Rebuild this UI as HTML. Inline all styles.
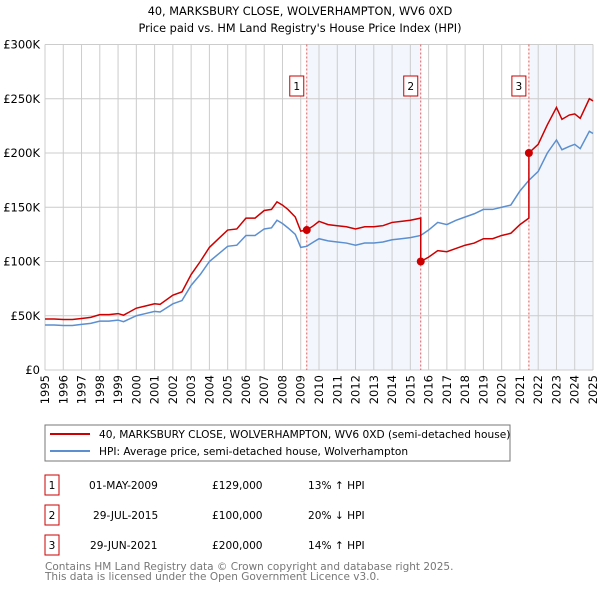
<!DOCTYPE html>
<html><head><meta charset="utf-8"><style>
body{margin:0;background:#fff;font-family:"DejaVu Sans","Liberation Sans",sans-serif;}
svg{display:block}
</style></head><body>
<svg id="c" width="600" height="590" viewBox="0 0 600 590" font-family="DejaVu Sans, Liberation Sans, sans-serif">
<text x="300" y="15" text-anchor="middle" font-size="11.3" fill="#000">40, MARKSBURY CLOSE, WOLVERHAMPTON, WV6 0XD</text>
<text x="300" y="32" text-anchor="middle" font-size="11.3" fill="#000">Price paid vs. HM Land Registry's House Price Index (HPI)</text>
<g id="plot"></g>
<g>
<rect x="45" y="425" width="465" height="36" fill="#fff" stroke="#777"/>
<line x1="50" y1="434" x2="90" y2="434" stroke="#cc0000" stroke-width="2"/>
<text x="99" y="438" font-size="10.6">40, MARKSBURY CLOSE, WOLVERHAMPTON, WV6 0XD (semi-detached house)</text>
<line x1="50" y1="451" x2="90" y2="451" stroke="#5b8fd0" stroke-width="2"/>
<text x="99" y="455" font-size="10.6">HPI: Average price, semi-detached house, Wolverhampton</text>
</g>
<g font-size="10.6">
<rect x="45" y="475" width="14" height="20" fill="#fff" stroke="#cc0000"/><text x="52" y="489" text-anchor="middle">1</text>
<text x="89" y="489">01-MAY-2009</text><text x="212" y="489">£129,000</text><text x="308" y="489">13% ↑ HPI</text>
<rect x="45" y="505" width="14" height="20" fill="#fff" stroke="#cc0000"/><text x="52" y="519" text-anchor="middle">2</text>
<text x="93" y="519">29-JUL-2015</text><text x="212" y="519">£100,000</text><text x="308" y="519">20% ↓ HPI</text>
<rect x="45" y="535" width="14" height="20" fill="#fff" stroke="#cc0000"/><text x="52" y="549" text-anchor="middle">3</text>
<text x="90" y="549">29-JUN-2021</text><text x="212" y="549">£200,000</text><text x="308" y="549">14% ↑ HPI</text>
</g>
<text x="45" y="570" font-size="10.5" fill="#777">Contains HM Land Registry data © Crown copyright and database right 2025.</text>
<text x="45" y="580" font-size="10.5" fill="#777">This data is licensed under the Open Government Licence v3.0.</text>
</svg>
<script>
const yearTicks=[1995,1996,1997,1998,1999,2000,2001,2002,2003,2004,2005,2006,2007,2008,2009,2010,2011,2012,2013,2014,2015,2016,2017,2018,2019,2020,2021,2022,2023,2024,2025];
const valueTicks=[0,50000,100000,150000,200000,250000,300000];
const valueTickLabels=["£0","£50K","£100K","£150K","£200K","£250K","£300K"];
const hpiYears=[1995,1995.5,1996,1996.5,1997,1997.5,1998,1998.5,1999,1999.3,2000,2000.5,2001,2001.3,2002,2002.5,2003,2003.5,2004,2004.5,2005,2005.5,2006,2006.5,2007,2007.4,2007.7,2008,2008.3,2008.7,2009,2009.33,2009.7,2010,2010.5,2011,2011.5,2012,2012.5,2013,2013.5,2014,2014.5,2015,2015.57,2016,2016.5,2017,2017.5,2018,2018.5,2019,2019.5,2020,2020.5,2021,2021.5,2022,2022.5,2023,2023.3,2023.7,2024,2024.3,2024.8,2025];
const hpiValues=[41500,41500,41000,41000,42000,43000,45000,45000,46000,44500,50000,52000,54000,53500,61000,64000,78000,88000,100000,107000,114000,115000,124000,124000,130000,131000,138000,135000,131000,125000,113000,114000,118000,121000,119000,118000,117000,115000,117000,117000,118000,120000,121000,122000,124000,129000,136000,134000,138000,141000,144000,148000,148000,150000,152000,165000,175000,183000,200000,212000,203000,206000,208000,204000,220000,218000];
const priceYears=[1995,1995.5,1996,1996.5,1997,1997.5,1998,1998.5,1999,1999.3,2000,2000.5,2001,2001.3,2002,2002.5,2003,2003.5,2004,2004.5,2005,2005.5,2006,2006.5,2007,2007.4,2007.7,2008,2008.3,2008.7,2009,2009.33,2009.7,2010,2010.5,2011,2011.5,2012,2012.5,2013,2013.5,2014,2014.5,2015,2015.57,2015.57,2016,2016.5,2017,2017.5,2018,2018.5,2019,2019.5,2020,2020.5,2021,2021.49,2021.49,2022,2022.5,2023,2023.3,2023.7,2024,2024.3,2024.8,2025];
const priceValues=[47000,47000,46500,46500,47500,48500,51000,51000,52000,50500,57000,59000,61000,60500,69000,72000,88000,100000,113000,121000,129000,130000,140000,140000,147000,148000,155000,152000,148000,141000,128000,129000,133000,137000,134000,133000,132000,130000,132000,132000,133000,136000,137000,138000,140000,100000,104000,110000,109000,112000,115000,117000,121000,121000,124000,126000,134000,140000,200000,208000,226000,242000,231000,235000,236000,232000,250000,248000];
const saleYears=[2009.33,2015.57,2021.49];
const salePrices=[129000,100000,200000];
const saleLabels=["1","2","3"];
const L=45,R=593,T=44.5,B=370;
const x=y=>L+(y-1995)/(2025-1995)*(R-L);
const yv=v=>B-v/300000*(B-T);
const NS="http://www.w3.org/2000/svg";
const g=document.getElementById('plot');
function mk(t,a,p){const e=document.createElementNS(NS,t);for(const k in a)e.setAttribute(k,a[k]);(p||g).appendChild(e);return e;}
let s1=mk('rect',{x:x(saleYears[0]),y:T,width:x(saleYears[1])-x(saleYears[0]),height:B-T,fill:'#eef3fc',opacity:0.7});


let s2=mk('rect',{x:x(saleYears[2]),y:T,width:R-x(saleYears[2]),height:B-T,fill:'#eef3fc',opacity:0.7});


yearTicks.forEach(yr=>{
 let l=mk('line',{x1:x(yr),x2:x(yr),y1:T,y2:B,stroke:'#cccccc','stroke-width':1});
 
 
 let t=mk('text',{x:0,y:0,'font-size':11.5,'text-anchor':'end',transform:`translate(${x(yr)+4},${B+5}) rotate(-90)`});
 t.textContent=yr;
 
 
});
valueTicks.forEach((v,i)=>{
 let l=mk('line',{x1:L,x2:R,y1:yv(v),y2:yv(v),stroke:'#cccccc','stroke-width':1});
 
 
 let t=mk('text',{x:40,y:yv(v)+4,'font-size':11.5,'text-anchor':'end'});
 t.textContent=valueTickLabels[i];
 
 
});
saleYears.forEach((yr,i)=>{
 let l=mk('line',{x1:x(yr),x2:x(yr),y1:T,y2:B,stroke:'#ee5555','stroke-width':1,'stroke-dasharray':'2,2'});
 
 
});
let hp=mk('polyline',{points:hpiYears.map((yr,i)=>x(yr)+','+yv(hpiValues[i])).join(' '),fill:'none',stroke:'#5b8fd0','stroke-width':1.5});


let pp=mk('polyline',{points:priceYears.map((yr,i)=>x(yr)+','+yv(priceValues[i])).join(' '),fill:'none',stroke:'#cc0000','stroke-width':1.5});


saleYears.forEach((yr,i)=>{
 let d=mk('circle',{cx:x(yr),cy:yv(salePrices[i]),r:4,fill:'#cc0000'});
 
 
 let bx=mk('rect',{x:x(yr)-17,y:76,width:14,height:20,fill:'#fff',stroke:'#cc0000'});
 
 
 let t=mk('text',{x:x(yr)-10,y:90,'font-size':10.6,'text-anchor':'middle'});
 t.textContent=saleLabels[i];
 
 
});
</script>
</body></html>
